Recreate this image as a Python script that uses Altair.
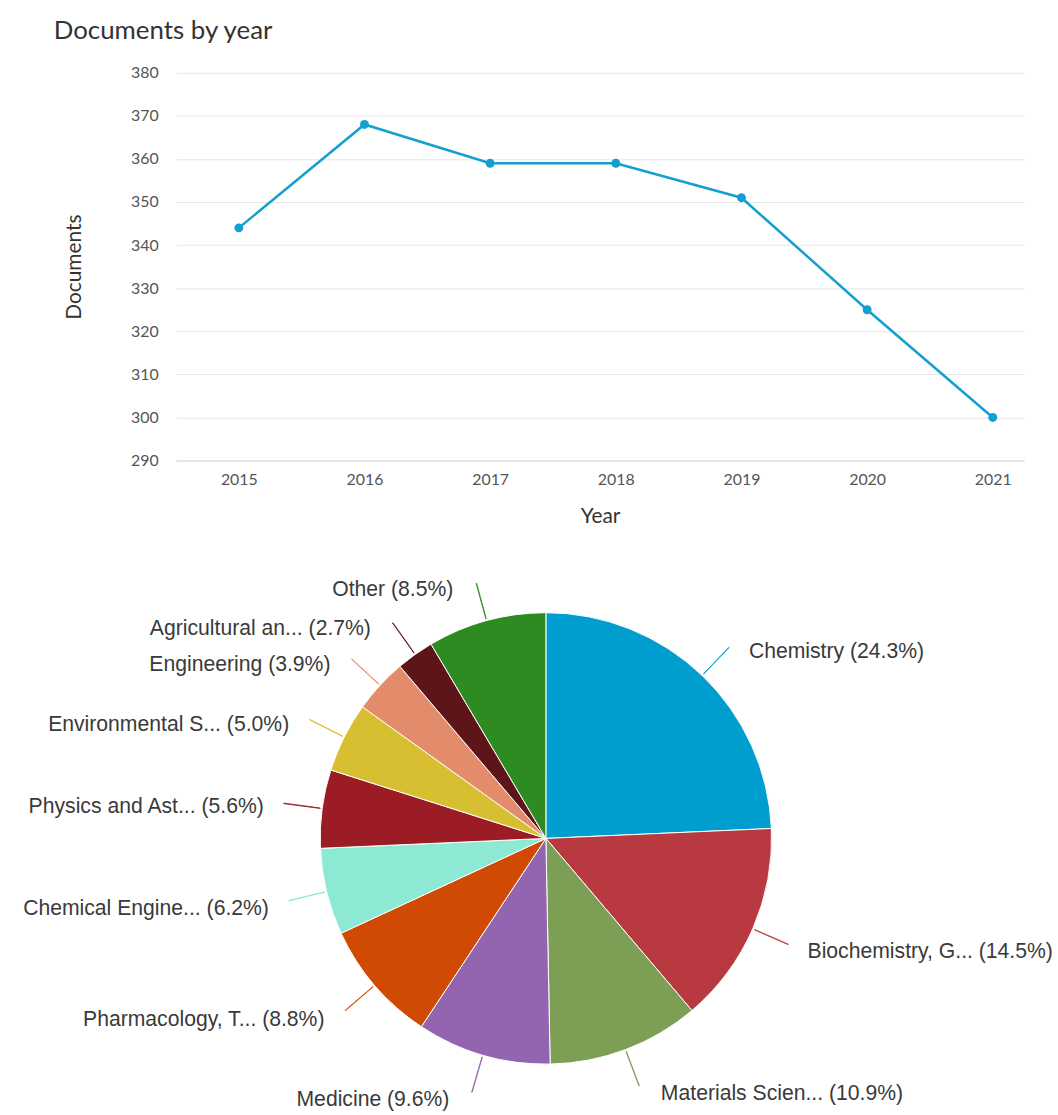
import altair as alt
import pandas as pd

# Documents per publication year
years = [2015, 2016, 2017, 2018, 2019, 2020, 2021]
documents = [344, 368, 359, 359, 351, 325, 300]
y_ticks = [290, 300, 310, 320, 330, 340, 350, 360, 370, 380]

# Documents by subject area (share of total, %)
subjects = [
    "Chemistry",
    "Biochemistry, G...",
    "Materials Scien...",
    "Medicine",
    "Pharmacology, T...",
    "Chemical Engine...",
    "Physics and Ast...",
    "Environmental S...",
    "Engineering",
    "Agricultural an...",
    "Other",
]
shares = [24.3, 14.5, 10.9, 9.6, 8.8, 6.2, 5.6, 5.0, 3.9, 2.7, 8.5]
subject_colors = [
    "#009ece", "#b8393f", "#7d9e55", "#9364b0", "#d14a03", "#8de9d4",
    "#9b1c25", "#d8bf31", "#e28c6c", "#5d1519", "#2e8b22",
]

FONT = "Lato"
LABEL_FONT = "Liberation Sans"
LINE_COLOR = "#149fd0"

# ---------------- line chart ----------------
year_df = pd.DataFrame({"year": years, "documents": documents})

x_enc = alt.X(
    "year:Q",
    scale=alt.Scale(domain=[2014.5, 2021.25], nice=False, zero=False),
    axis=alt.Axis(
        values=years, format="d", title="Year", grid=False, ticks=False,
        domainColor="#ccd6eb", domainWidth=1,
        labelFont=FONT, labelFontSize=16, labelColor="#555555", labelPadding=11,
        titleFont=FONT, titleFontSize=21, titleFontWeight="normal",
        titleColor="#333333", titlePadding=18,
    ),
)
y_enc = alt.Y(
    "documents:Q",
    scale=alt.Scale(domain=[290, 380], nice=False, zero=False),
    axis=alt.Axis(
        values=y_ticks, title="Documents", domain=False, ticks=False,
        gridColor="#e6e6e6", gridWidth=1,
        labelFont=FONT, labelFontSize=16, labelColor="#555555", labelPadding=18,
        titleFont=FONT, titleFontSize=21, titleFontWeight="normal",
        titleColor="#333333", titleAngle=-90, titleAlign="center",
        titleBaseline="middle", titleX=-102, titleY=195,
    ),
)

line = alt.Chart(year_df).mark_line(color=LINE_COLOR, strokeWidth=2.5).encode(x=x_enc, y=y_enc)
dots = alt.Chart(year_df).mark_point(
    filled=True, color=LINE_COLOR, size=80, opacity=1
).encode(x="year:Q", y="documents:Q")

year_chart = alt.layer(line, dots).properties(
    width=853,
    height=390,
    title=alt.TitleParams(
        "Documents by year", anchor="start", frame="group", dx=-123,
        font=FONT, fontSize=26, fontWeight="normal", color="#333333",
        baseline="alphabetic", offset=0,
    ),
)

# ---------------- pie chart ----------------
pie_df = pd.DataFrame({
    "subject": subjects,
    "share": shares,
    "rank": list(range(len(subjects))),
    "label": [f"{s} ({v:.1f}%)" for s, v in zip(subjects, shares)],
})

theta_scale = alt.Scale(domain=[0, 100])
color_enc = alt.Color(
    "subject:N", scale=alt.Scale(domain=subjects, range=subject_colors), legend=None
)

base = (
    alt.Chart(pie_df)
    .transform_window(cum="sum(share)", sort=[alt.SortField("rank")])
    .transform_calculate(
        mid="datum.cum - datum.share / 2",
        mid_end="datum.cum - datum.share / 2 + 0.03",
    )
)

slices = base.mark_arc(outerRadius=227, stroke="white", strokeWidth=1).encode(
    theta=alt.Theta("share:Q", stack=True, scale=theta_scale),
    order=alt.Order("rank:Q"),
    color=color_enc,
)

connectors = base.mark_arc(
    innerRadius=229, outerRadius=266, filled=False, strokeWidth=0.9
).encode(
    theta=alt.Theta("mid:Q", stack=False, scale=theta_scale),
    theta2="mid_end",
    color=color_enc,
)


def label_layer(expr, align, dx, dy):
    return base.transform_filter(expr).mark_text(
        radius=262, align=align, baseline="middle", dx=dx, dy=dy,
        font=LABEL_FONT, fontSize=21.3, color="#3a3a3a",
    ).encode(
        theta=alt.Theta("mid:Q", stack=False, scale=theta_scale),
        text="label:N",
    )


# labels sit right of the pie on its right half, left of it on the left half;
# the ones below the centre are nudged a little lower
labels = [
    label_layer("datum.mid < 25", "left", 23, 2),
    label_layer("datum.mid >= 25 && datum.mid < 37.5", "left", 23, 9),
    label_layer("datum.mid >= 37.5 && datum.mid < 50", "left", 23, 12),
    label_layer("datum.mid >= 50 && datum.mid < 67.5", "right", -24, 12),
    label_layer("datum.mid >= 67.5 && datum.mid < 75", "right", -24, 9),
    label_layer("datum.mid >= 75", "right", -24, 3),
]

subject_chart = alt.layer(slices, connectors, *labels).properties(width=744, height=454)

chart = (
    alt.vconcat(year_chart, subject_chart, spacing=153, bounds="flush")
    .properties(padding={"left": 23, "top": 15, "right": 4, "bottom": 2}, background="white")
    .configure_view(stroke=None)
)

chart.save("out.html", embed_options={"renderer": "svg", "actions": False})
